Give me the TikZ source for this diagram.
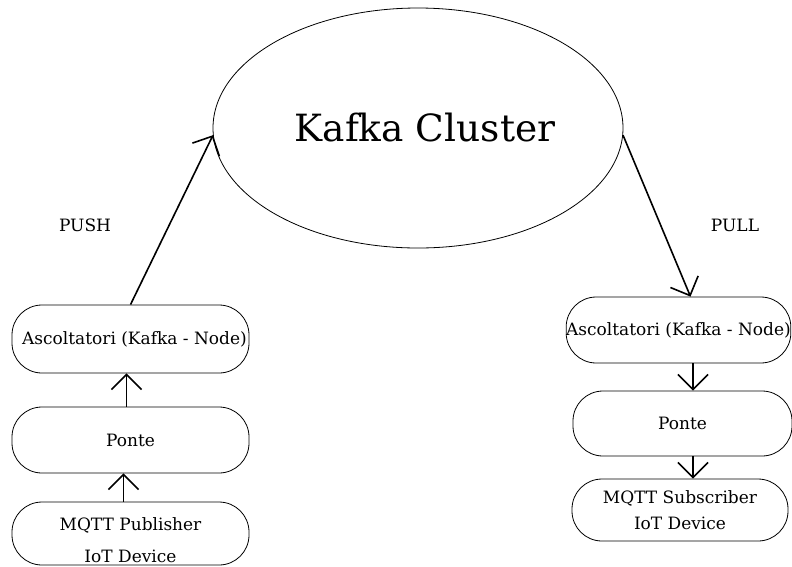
\documentclass[tikz,border=0pt]{standalone}
\usepackage{fontspec}
\setmainfont{DejaVu Serif}
\usetikzlibrary{calc,shapes.geometric,arrows.meta}

\tikzset{
  box/.style={draw,rectangle,rounded corners=30pt,line width=0.8pt,inner sep=0pt,align=center,font=\fontsize{17}{20}\selectfont},
  flow/.style={-{Straight Barb[length=15pt,width=30pt]},line width=1.6pt},
  side/.style={font=\fontsize{17}{20}\selectfont}
}

\begin{document}
\begin{tikzpicture}[x=1pt,y=-1pt]
\useasboundingbox (0,0) rectangle (792,566);

\node [draw,ellipse,line width=0.8pt,minimum width=410pt,minimum height=240pt,inner sep=0pt,font=\fontsize{37.5}{44}\selectfont] (kafka) at (418,128){\hspace*{14pt}Kafka Cluster};

% lato publisher
\node [box,minimum width=237pt,minimum height=68pt] (ascL) at (130.5,339){\hspace*{8pt}Ascoltatori (Kafka - Node)};
\node [box,minimum width=237pt,minimum height=66pt] (ponteL) at (130.5,440){Ponte};
\node [box,minimum width=237pt,minimum height=63pt] (pubL) at (130.5,533.5){\rule{0pt}{27pt}MQTT Publisher\\[12pt]IoT Device};

% lato subscriber
\node [box,minimum width=223pt,minimum height=66pt] (ascR) at (678.5,330){Ascoltatori (Kafka - Node)};
\node [box,minimum width=219pt,minimum height=65pt] (ponteR) at (682.5,423.5){Ponte};
\node [box,minimum width=216pt,minimum height=62pt] (subR) at (680,510){MQTT Subscriber\\[6pt]IoT Device};

\node [side] (push) at (85,225){PUSH};
\node [side] (pull) at (735,225){PULL};

\draw[flow] ([xshift=-7pt]pubL.north) -- ([xshift=-7pt]ponteL.south);
\draw[flow] ([xshift=-4pt]ponteL.north) -- ([xshift=-4pt]ascL.south);
\draw[flow] (ascL.north) -- (kafka.182);

\draw[flow] (kafka.358) -- ([xshift=12pt]ascR.north);
\draw[flow] ([xshift=14.5pt]ascR.south) -- ([xshift=10.5pt]ponteR.north);
\draw[flow] ([xshift=10.5pt]ponteR.south) -- ([xshift=13pt]subR.north);

\end{tikzpicture}
\end{document}
